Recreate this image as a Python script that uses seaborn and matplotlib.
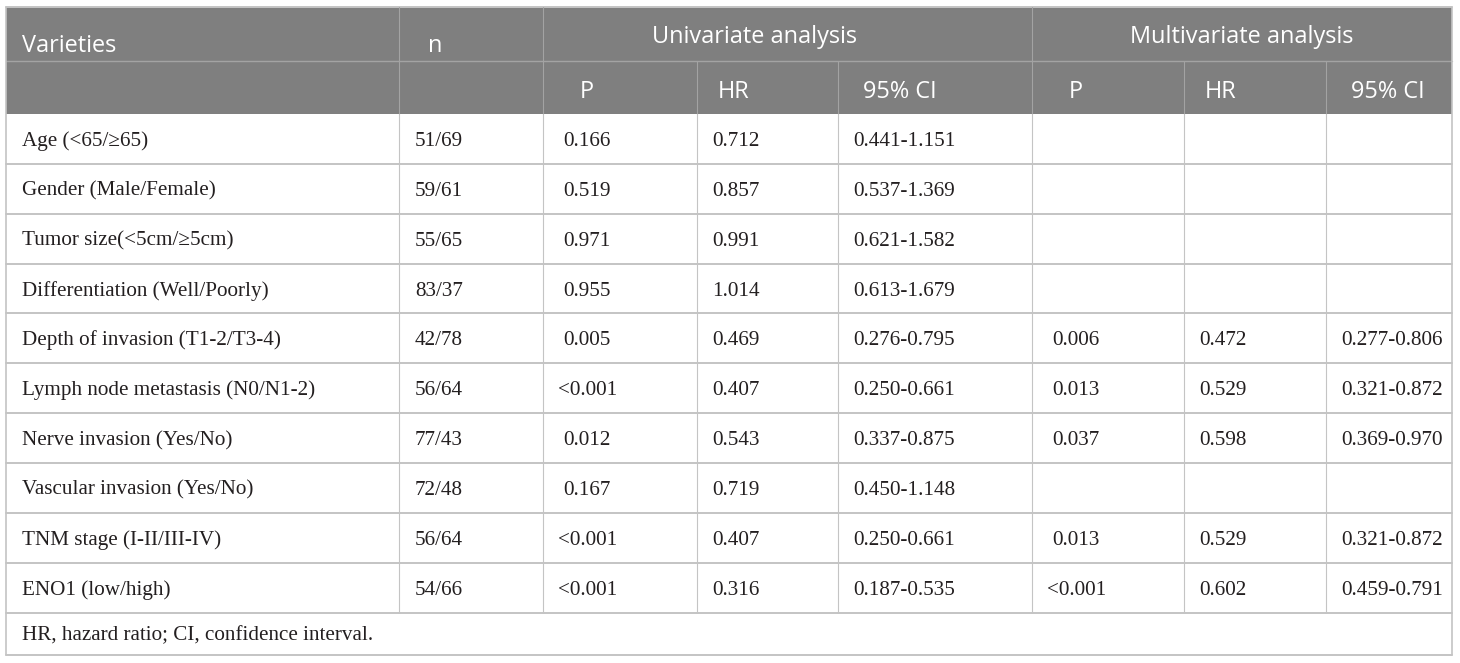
import seaborn as sns
import matplotlib.pyplot as plt
import pandas as pd

# Dados da tabela
variedades = ['Age (<65/≥65)', 'Gender (Male/Female)', 'Tumor size(<5cm/≥5cm)',
              'Differentiation (Well/Poorly)', 'Depth of invasion (T1-2/T3-4)',
              'Lymph node metastasis (N0/N1-2)', 'Nerve invasion (Yes/No)',
              'Vascular invasion (Yes/No)', 'TNM stage (I-II/III-IV)', 'ENO1 (low/high)']
n_casos = ['51/69', '59/61', '55/65', '83/37', '42/78', '56/64', '77/43', '72/48', '56/64', '54/66']
uni_p = ['0.166', '0.519', '0.971', '0.955', '0.005', '<0.001', '0.012', '0.167', '<0.001', '<0.001']
uni_hr = ['0.712', '0.857', '0.991', '1.014', '0.469', '0.407', '0.543', '0.719', '0.407', '0.316']
uni_ci = ['0.441-1.151', '0.537-1.369', '0.621-1.582', '0.613-1.679', '0.276-0.795',
          '0.250-0.661', '0.337-0.875', '0.450-1.148', '0.250-0.661', '0.187-0.535']
multi_p = ['', '', '', '', '0.006', '0.013', '0.037', '', '0.013', '<0.001']
multi_hr = ['', '', '', '', '0.472', '0.529', '0.598', '', '0.529', '0.602']
multi_ci = ['', '', '', '', '0.277-0.806', '0.321-0.872', '0.369-0.970', '', '0.321-0.872', '0.459-0.791']

grupos = ['Univariate analysis', 'Multivariate analysis']
sub_cabecalho = ['P', 'HR', '95% CI', 'P', 'HR', '95% CI']
rodape = 'HR, hazard ratio; CI, confidence interval.'

df = pd.DataFrame({
    'Varieties': variedades, 'n': n_casos,
    'uP': uni_p, 'uHR': uni_hr, 'uCI': uni_ci,
    'mP': multi_p, 'mHR': multi_hr, 'mCI': multi_ci,
})

# Layout em pixels
cols = [6, 399, 543, 697, 838, 1032, 1184, 1326, 1452]
topo, h1, h2 = 7, 61, 114
alt_linha = 49.85
fim_dados = h2 + alt_linha * len(df)
base = 655
cinza_cab = '#7f7f7f'
linha_cab = '#a3a3a3'
linha = '#c4c4c4'
cor_texto = '#231f20'
serif = ['Liberation Serif', 'DejaVu Serif']
sans = ['Open Sans', 'DejaVu Sans']

sns.set_style('white')
fig = plt.figure(figsize=(14.6, 6.63), dpi=100)
ax = fig.add_axes([0, 0, 1, 1])
ax.set_xlim(0, 1460)
ax.set_ylim(663, 0)
ax.axis('off')

# Cabeçalho
ax.add_patch(plt.Rectangle((cols[0], topo), cols[-1] - cols[0], h2 - topo,
                           facecolor=cinza_cab, edgecolor='none'))
ax.plot([cols[0], cols[-1]], [topo, topo], color=linha, lw=1.4)
ax.plot([cols[0], cols[-1]], [h1, h1], color=linha_cab, lw=1.0)
for x in [cols[1], cols[2], cols[5]]:
    ax.plot([x, x], [topo, h1], color=linha_cab, lw=0.8)
for x in cols[1:-1]:
    ax.plot([x, x], [h1, h2], color=linha_cab, lw=0.8)

ax.text(cols[0] + 16, 52, 'Varieties', color='white', fontsize=16.9, family=sans, va='baseline')
ax.text(cols[1] + 29, 52, 'n', color='white', fontsize=16.9, family=sans, va='baseline')
for nome, cx in zip(grupos, [754, 1242]):
    ax.text(cx, 43, nome, color='white', fontsize=16.9, family=sans, va='baseline', ha='center')
pads_cab = [37, 21, 25]
for j, nome in enumerate(sub_cabecalho):
    ax.text(cols[2 + j] + pads_cab[j % 3], 98, nome, color='white', fontsize=16.9,
            family=sans, va='baseline')

# Corpo
for i, row in df.reset_index(drop=True).iterrows():
    y0 = h2 + alt_linha * i
    valores = list(row.values)
    for j, val in enumerate(valores):
        if not val:
            continue
        pad = 16
        if j in (2, 5):
            pad = 20
        elif j > 1:
            pad = 15
        if val.startswith('<'):
            pad -= 5
        ax.text(cols[j] + pad, y0 + 32, val, color=cor_texto, fontsize=15.2,
                family=serif, va='baseline')
    ax.plot([cols[0], cols[-1]], [y0 + alt_linha, y0 + alt_linha], color=linha, lw=1.4)

for x in cols[1:-1]:
    ax.plot([x, x], [h2, fim_dados], color=linha, lw=0.8)
for x in [cols[0], cols[-1]]:
    ax.plot([x, x], [topo, base], color=linha, lw=1.2)

ax.text(cols[0] + 16, fim_dados + 28, rodape, color=cor_texto, fontsize=15.2,
        family=serif, va='baseline')
ax.plot([cols[0], cols[-1]], [base, base], color=linha, lw=1.4)

fig.savefig('out.png', dpi=100)
